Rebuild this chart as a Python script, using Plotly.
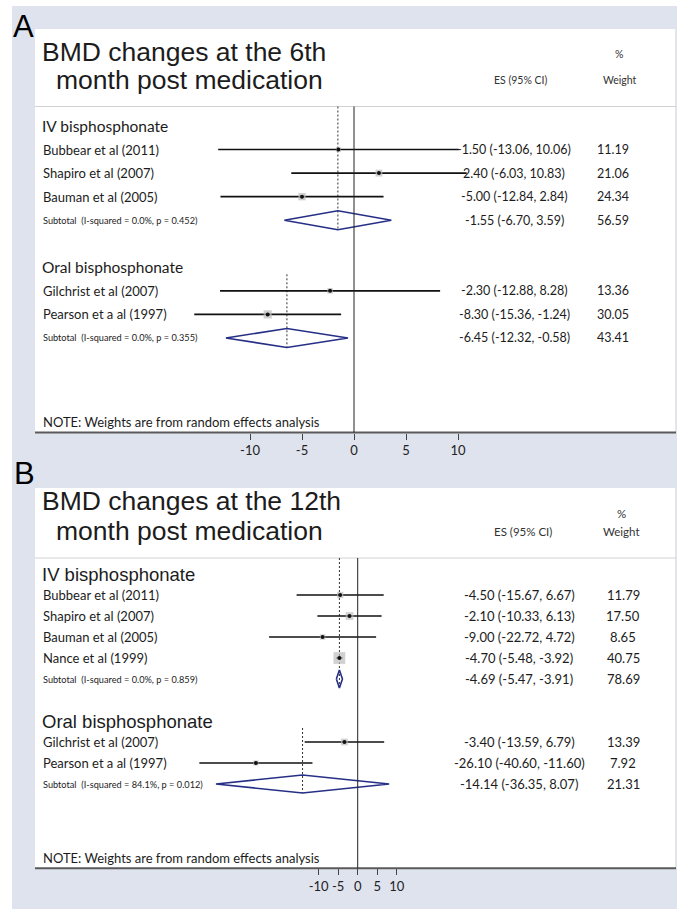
import math
import plotly.graph_objects as go

W, H = 679, 909

# ---------------- Panel A: BMD change at the 6th month ----------------
a_title = ["BMD changes at the 6th", "month post medication"]
a_groups = ["IV bisphosphonate", "Oral bisphosphonate"]
a_study = ["Bubbear et al (2011)", "Shapiro et al (2007)", "Bauman et al (2005)",
           "Gilchrist et al (2007)", "Pearson et a al (1997)"]
a_group = [0, 0, 0, 1, 1]
a_es = [-1.50, 2.40, -5.00, -2.30, -8.30]
a_lo = [-13.06, -6.03, -12.84, -12.88, -15.36]
a_hi = [10.06, 10.83, 2.84, 8.28, -1.24]
a_weight = [11.19, 21.06, 24.34, 13.36, 30.05]
a_sub_stats = ["I-squared = 0.0%, p = 0.452", "I-squared = 0.0%, p = 0.355"]
a_sub_es = [-1.55, -6.45]
a_sub_lo = [-6.70, -12.32]
a_sub_hi = [3.59, -0.58]
a_sub_weight = [56.59, 43.41]
a_ticks = [-10, -5, 0, 5, 10]

# ---------------- Panel B: BMD change at the 12th month ----------------
b_title = ["BMD changes at the 12th", "month post medication"]
b_groups = ["IV bisphosphonate", "Oral bisphosphonate"]
b_study = ["Bubbear et al (2011)", "Shapiro et al (2007)", "Bauman et al (2005)",
           "Nance et al (1999)", "Gilchrist et al (2007)", "Pearson et a al (1997)"]
b_group = [0, 0, 0, 0, 1, 1]
b_es = [-4.50, -2.10, -9.00, -4.70, -3.40, -26.10]
b_lo = [-15.67, -10.33, -22.72, -5.48, -13.59, -40.60]
b_hi = [6.67, 6.13, 4.72, -3.92, 6.79, -11.60]
b_weight = [11.79, 17.50, 8.65, 40.75, 13.39, 7.92]
b_sub_stats = ["I-squared = 0.0%, p = 0.859", "I-squared = 84.1%, p = 0.012"]
b_sub_es = [-4.69, -14.14]
b_sub_lo = [-5.47, -36.35]
b_sub_hi = [-3.91, 8.07]
b_sub_weight = [78.69, 21.31]
b_ticks = [-10, -5, 0, 5, 10]

note_text = "NOTE: Weights are from random effects analysis"

# ---------------- styling / geometry (pixels from the top-left) ----------------
BG = "#dfe3ee"
TXT = "#1c1c1c"
NAVY = "#262f86"
CAL = "Lato, Carlito, sans-serif"
ARIAL = "Liberation Sans, Arial, sans-serif"

panels = [
    dict(letter="A", letter_xy=(12, 26), box=(29, 432.5), title_y=(52, 80), title_x=(41, 55),
         title_size=26.5, pct_y=54, head_y=80, sep_y=106.5, row0=126, step=23.55,
         zero_px=354, ppu=10.4, xaxis="x",
         es_x=514, wt_x=613, pct_x=619, head_es_x=520, head_wt_x=620, head_size=10.5,
         es_size=12.5, note_y=421.7, group_font=dict(family=CAL, size=15.5, color=TXT),
         half_h=9.5, box_k=1.5,
         title=a_title, groups=a_groups, study=a_study, group=a_group, es=a_es, lo=a_lo,
         hi=a_hi, weight=a_weight, sub_stats=a_sub_stats, sub_es=a_sub_es,
         sub_lo=a_sub_lo, sub_hi=a_sub_hi, sub_weight=a_sub_weight, ticks=a_ticks),
    dict(letter="B", letter_xy=(13, 473), box=(488, 868.3), title_y=(501, 531), title_x=(41, 55),
         title_size=26.5, pct_y=513, head_y=531, sep_y=558, row0=574, step=21,
         zero_px=357.7, ppu=3.9, xaxis="x2",
         es_x=519, wt_x=623, pct_x=621.5, head_es_x=523, head_wt_x=621, head_size=11.5,
         es_size=13, note_y=858.3, group_font=dict(family=ARIAL, size=18.5, color=TXT),
         half_h=9, box_k=1.85,
         title=b_title, groups=b_groups, study=b_study, group=b_group, es=b_es, lo=b_lo,
         hi=b_hi, weight=b_weight, sub_stats=b_sub_stats, sub_es=b_sub_es,
         sub_lo=b_sub_lo, sub_hi=b_sub_hi, sub_weight=b_sub_weight, ticks=b_ticks),
]

fig = go.Figure()
shapes = []
annotations = []


def px(x):
    return x / W


def text(x, y, s, size, family=CAL, anchor="left", color=TXT):
    annotations.append(dict(x=px(x), y=y, xref="paper", yref="y", text=s, showarrow=False,
                            xanchor=anchor, yanchor="middle", borderpad=0,
                            font=dict(family=family, size=size, color=color)))


# page background band
shapes.append(dict(type="rect", xref="paper", yref="y", x0=px(12), x1=px(677), y0=6, y1=H,
                   fillcolor=BG, line=dict(width=0), layer="below"))

layout_axes = {}
for k, P in enumerate(panels):
    top, bottom = P["box"]
    xa = P["xaxis"]
    # white plotting card, header rule and horizontal axis rule
    shapes.append(dict(type="rect", xref="paper", yref="y", x0=px(35), x1=px(676), y0=top,
                       y1=bottom, fillcolor="white", line=dict(width=0), layer="below"))
    shapes.append(dict(type="line", xref="paper", yref="y", x0=px(675.5), x1=px(675.5),
                       y0=top, y1=bottom, line=dict(color="#e6e6e6", width=1), layer="below"))
    shapes.append(dict(type="line", xref="paper", yref="y", x0=px(35), x1=px(676),
                       y0=P["sep_y"], y1=P["sep_y"], line=dict(color="#d2d2d2", width=1),
                       layer="below"))
    shapes.append(dict(type="line", xref="paper", yref="y", x0=px(35), x1=px(676),
                       y0=bottom, y1=bottom, line=dict(color="#5a5a5a", width=2)))
    # line of no effect
    shapes.append(dict(type="line", xref=xa, yref="y", x0=0, x1=0, y0=P["sep_y"],
                       y1=bottom, line=dict(color="#222", width=1)))

    # headings
    text(P["letter_xy"][0], P["letter_xy"][1], P["letter"], 31, ARIAL, color="black")
    text(P["title_x"][0], P["title_y"][0], P["title"][0], P["title_size"], ARIAL)
    text(P["title_x"][1], P["title_y"][1], P["title"][1], P["title_size"], ARIAL)
    text(P["head_es_x"], P["head_y"], "ES (95% CI)", P["head_size"], anchor="center", color="#333")
    text(P["pct_x"], P["pct_y"], "%", P["head_size"], anchor="center", color="#333")
    text(P["head_wt_x"], P["head_y"], "Weight", P["head_size"], anchor="center", color="#333")

    # row layout
    ci_x, ci_y, box_x, box_y, box_s = [], [], [], [], []
    dia_x, dia_y = [], []
    r = 0
    ry = lambda i: P["row0"] + i * P["step"]
    for g, gname in enumerate(P["groups"]):
        label_row = r
        annotations.append(dict(x=px(41), y=ry(r), xref="paper", yref="y", text=gname,
                                showarrow=False, xanchor="left", yanchor="middle",
                                borderpad=0, font=P["group_font"]))
        r += 1
        for i, name in enumerate(P["study"]):
            if P["group"][i] != g:
                continue
            y = ry(r)
            text(42, y, name, 13)
            es, lo, hi, w = P["es"][i], P["lo"][i], P["hi"][i], P["weight"][i]
            ci_x += [lo, hi, None]
            ci_y += [y, y, None]
            box_x.append(es)
            box_y.append(y)
            box_s.append(P["box_k"] * math.sqrt(w))
            text(P["es_x"], y, f"{es:.2f} ({lo:.2f}, {hi:.2f})", P["es_size"], anchor="center")
            text(P["wt_x"], y, f"{w:.2f}", P["es_size"], anchor="center")
            r += 1
        # pooled estimate
        y = ry(r)
        es, lo, hi, w = P["sub_es"][g], P["sub_lo"][g], P["sub_hi"][g], P["sub_weight"][g]
        hh = P["half_h"]
        dia_x += [lo, es, hi, es, lo, None]
        dia_y += [y, y - hh, y, y + hh, y, None]
        text(42, y, "Subtotal&nbsp;&nbsp;(" + P["sub_stats"][g] + ")", 9.2)
        text(P["es_x"], y, f"{es:.2f} ({lo:.2f}, {hi:.2f})", P["es_size"], anchor="center")
        text(P["wt_x"], y, f"{w:.2f}", P["es_size"], anchor="center")
        dot_top = P["sep_y"] if g == 0 else ry(label_row) + 7
        fig.add_trace(go.Scatter(x=[es, es], y=[dot_top, y + hh], mode="lines", xaxis=xa,
                                 yaxis="y", line=dict(color="#333", width=1, dash="2px,2px"),
                                 hoverinfo="skip"))
        r += 2

    fig.add_trace(go.Scatter(x=ci_x, y=ci_y, mode="lines", xaxis=xa, yaxis="y",
                             line=dict(color="#111", width=1.6), hoverinfo="skip"))
    fig.add_trace(go.Scatter(x=box_x, y=box_y, mode="markers", xaxis=xa, yaxis="y",
                             marker=dict(symbol="square", size=box_s, color="#bdbdbd",
                                         line=dict(width=0)), hoverinfo="skip"))
    fig.add_trace(go.Scatter(x=box_x, y=box_y, mode="markers", xaxis=xa, yaxis="y",
                             marker=dict(symbol="circle", size=4, color="#111"),
                             hoverinfo="skip"))
    fig.add_trace(go.Scatter(x=dia_x, y=dia_y, mode="lines", xaxis=xa, yaxis="y",
                             line=dict(color=NAVY, width=1.6), hoverinfo="skip"))

    text(42, P["note_y"], note_text, 13)

    axis = dict(range=[(0 - P["zero_px"]) / P["ppu"], (W - P["zero_px"]) / P["ppu"]],
                domain=[0, 1], anchor="free", position=1 - bottom / H,
                tickvals=P["ticks"], ticktext=[str(t) for t in P["ticks"]],
                ticks="outside", ticklen=6, tickwidth=1, tickcolor="#444",
                showline=False, showgrid=False, zeroline=False, fixedrange=True,
                tickfont=dict(family=CAL, size=13, color="#222"))
    key = "xaxis" if xa == "x" else "xaxis2"
    if xa == "x2":
        axis["overlaying"] = "x"
    layout_axes[key] = axis

fig.update_layout(
    width=W, height=H, autosize=False,
    margin=dict(l=0, r=0, t=0, b=0, pad=0),
    paper_bgcolor="white", plot_bgcolor="white",
    showlegend=False,
    yaxis=dict(range=[H, 0], domain=[0, 1], visible=False, fixedrange=True),
    shapes=shapes, annotations=annotations,
    **layout_axes,
)

fig.write_html("out.html", config={"displayModeBar": False})
